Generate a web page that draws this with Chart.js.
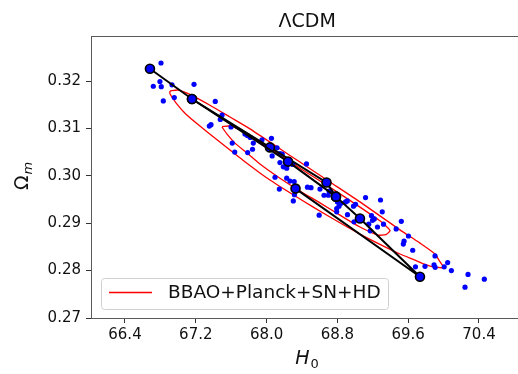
<!DOCTYPE html>
<html lang="en">
<head>
    <meta charset="UTF-8">
    <title>LCDM H0 - Omega_m</title>
    <script src="https://cdn.jsdelivr.net/npm/chart.js"></script>
    <style>
        body {
            margin: 0;
            padding: 0;
            background: #ffffff;
            overflow: hidden;
        }
        #wrap {
            width: 540px;
            height: 374px;
        }
    </style>
</head>
<body>
    <div id="wrap">
        <canvas id="myChart" width="540" height="374"></canvas>
    </div>

    <script>
        // samples (blue dots)
        var h0Samples = [66.807, 66.795, 66.720, 66.810, 66.931, 67.180, 66.833, 66.957, 67.420, 67.496,
            67.477, 67.372, 67.353, 67.598, 67.612, 67.640, 67.756, 67.784, 67.816, 67.850,
            67.948, 67.841, 68.055, 68.118, 68.063, 67.786, 68.151, 68.177, 68.151, 68.245,
            68.295, 68.189, 68.227, 68.451, 68.095, 68.227, 68.264, 68.312, 68.144, 68.462,
            68.502, 68.603, 68.649, 68.697, 68.705, 68.724, 68.315, 68.302, 68.801, 68.841,
            68.818, 68.892, 68.912, 68.792, 68.792, 68.982, 69.005, 69.118, 69.287, 68.594,
            68.914, 69.185, 69.307, 68.988, 69.197, 69.217, 69.154, 69.253, 69.321, 69.171,
            69.464, 69.522, 69.603, 69.553, 69.545, 69.651, 69.903, 69.682, 69.790, 69.892,
            69.905, 70.007, 70.046, 70.088, 70.276, 70.242, 70.460];
        var omSamples = [0.3238, 0.3199, 0.3189, 0.3188, 0.3192, 0.3193, 0.3158, 0.3165, 0.3157, 0.3128,
            0.3119, 0.3108, 0.3105, 0.3103, 0.3069, 0.3050, 0.3088, 0.3085, 0.3081, 0.3069,
            0.3076, 0.3056, 0.3079, 0.3059, 0.3042, 0.3049, 0.3047, 0.3046, 0.3028, 0.3025,
            0.3024, 0.3019, 0.3016, 0.3025, 0.2997, 0.2995, 0.2989, 0.2988, 0.2972, 0.2976,
            0.2975, 0.2972, 0.2959, 0.2959, 0.2968, 0.2967, 0.2960, 0.2947, 0.2945, 0.2942,
            0.2936, 0.2945, 0.2947, 0.2931, 0.2924, 0.2936, 0.2940, 0.2954, 0.2949, 0.2917,
            0.2918, 0.2916, 0.2924, 0.2903, 0.2906, 0.2909, 0.2898, 0.2892, 0.2898, 0.2884,
            0.2888, 0.2904, 0.2873, 0.2862, 0.2856, 0.2843, 0.2831, 0.2808, 0.2809, 0.2812,
            0.2807, 0.2808, 0.2817, 0.2800, 0.2792, 0.2765, 0.2782];

        // black path through selected points (main branch + side branch)
        var h0Path = [66.682, 67.157, 68.038, 68.677, 68.784, 69.055, 69.733, 68.327];
        var omPath = [0.3226, 0.3162, 0.3060, 0.2986, 0.2956, 0.2910, 0.2787, 0.2973];
        var h0Branch = [67.157, 68.242, 68.784];
        var omBranch = [0.3162, 0.3030, 0.2956];

        // red contours (outer = 2 sigma, inner = 1 sigma)
        var h0Outer = [66.908, 66.999, 67.134, 67.360, 67.586, 67.812, 68.151, 68.377, 68.716, 69.055,
            69.507, 69.733, 69.903, 69.948, 69.993, 70.016, 69.982, 69.880, 69.790, 69.677,
            69.507, 69.338, 69.055, 68.716, 68.377, 68.038, 67.733, 67.440, 67.247, 67.089,
            66.976, 66.908, 66.908];
        var omOuter = [0.3179, 0.3181, 0.3172, 0.3149, 0.3124, 0.3099, 0.3057, 0.3029, 0.2987, 0.2945,
            0.2886, 0.2858, 0.2835, 0.2822, 0.2810, 0.2807, 0.2806, 0.2808, 0.2813, 0.2822,
            0.2835, 0.2850, 0.2877, 0.2913, 0.2951, 0.2991, 0.3033, 0.3076, 0.3105, 0.3130,
            0.3154, 0.3173, 0.3179];
        var h0Inner = [67.496, 67.586, 67.699, 67.869, 68.151, 68.377, 68.716, 69.055, 69.281, 69.372,
            69.394, 69.349, 69.259, 69.055, 68.829, 68.603, 68.377, 68.151, 67.925, 67.779,
            67.643, 67.553, 67.496];
        var omInner = [0.3104, 0.3105, 0.3097, 0.3078, 0.3044, 0.3016, 0.2976, 0.2934, 0.2905, 0.2890,
            0.2884, 0.2876, 0.2875, 0.2892, 0.2917, 0.2943, 0.2968, 0.2995, 0.3025, 0.3048,
            0.3069, 0.3088, 0.3103];

        var xTicks = [66.4, 67.2, 68.0, 68.8, 69.6, 70.4];
        var yTicks = [0.27, 0.28, 0.29, 0.30, 0.31, 0.32];
        var legendLabel = 'BBAO+Planck+SN+HD';

        function toPoints(xs, ys) {
            return xs.map(function (x, i) { return { x: x, y: ys[i] }; });
        }

        var FONT = '"DejaVu Sans", sans-serif';

        // frame, title, axis labels and legend
        var decorations = {
            id: 'decorations',
            afterDraw: function (chart) {
                var c = chart.ctx;
                var a = chart.chartArea;
                c.save();
                c.strokeStyle = '#5a5a5a';
                c.lineWidth = 1;
                c.strokeRect(Math.round(a.left) + 0.5, Math.round(a.top) + 0.5,
                    Math.round(a.right - a.left), Math.round(a.bottom - a.top));

                var cx = (a.left + a.right) / 2;
                c.fillStyle = '#111';
                c.textAlign = 'center';
                c.textBaseline = 'alphabetic';
                c.font = '19px ' + FONT;
                c.fillText('\u039BCDM', cx, 27);

                // x label H_0
                c.font = 'italic 19px ' + FONT;
                c.textAlign = 'left';
                var wH = c.measureText('H').width;
                c.fillText('H', cx - 12, 364);
                c.font = '13px ' + FONT;
                c.fillText('0', cx - 12 + wH + 1, 368);

                // y label Omega_m
                c.translate(28, (a.top + a.bottom) / 2);
                c.rotate(-Math.PI / 2);
                c.font = '19px ' + FONT;
                var wO = c.measureText('\u03A9').width;
                c.fillText('\u03A9', -13, 0);
                c.font = 'italic 13px ' + FONT;
                c.fillText('m', -13 + wO + 1, 4);
                c.setTransform(1, 0, 0, 1, 0, 0);

                // legend
                var lx = 101.5, ly = 278.5, lw = 287, lh = 31;
                c.beginPath();
                c.roundRect(lx, ly, lw, lh, 3);
                c.fillStyle = 'rgba(255,255,255,0.8)';
                c.fill();
                c.strokeStyle = '#d0d0d0';
                c.stroke();
                c.strokeStyle = '#ff0000';
                c.lineWidth = 1.5;
                c.beginPath();
                c.moveTo(109, 292.5);
                c.lineTo(152, 292.5);
                c.stroke();
                c.fillStyle = '#111';
                c.font = '18.5px ' + FONT;
                c.textAlign = 'left';
                c.textBaseline = 'middle';
                c.fillText(legendLabel, 168, 293);
                c.restore();
            }
        };

        var pathStyle = {
            showLine: true,
            borderColor: '#000000',
            borderWidth: 2,
            pointRadius: 4.5,
            pointBackgroundColor: '#0000ff',
            pointBorderColor: '#000000',
            pointBorderWidth: 1.6,
            order: 0
        };

        var ctx = document.getElementById('myChart').getContext('2d');
        var myChart = new Chart(ctx, {
            type: 'scatter',
            data: {
                datasets: [{
                    label: 'outer',
                    data: toPoints(h0Outer, omOuter),
                    showLine: true,
                    borderColor: '#ff0000',
                    borderWidth: 1.3,
                    pointRadius: 0,
                    tension: 0.2,
                    order: 3
                }, {
                    label: 'inner',
                    data: toPoints(h0Inner, omInner),
                    showLine: true,
                    borderColor: '#ff0000',
                    borderWidth: 1.3,
                    pointRadius: 0,
                    tension: 0.2,
                    order: 2
                }, {
                    label: 'samples',
                    data: toPoints(h0Samples, omSamples),
                    backgroundColor: '#0000ff',
                    borderWidth: 0,
                    pointRadius: 2.6,
                    order: 1
                }, Object.assign({
                    label: 'branch',
                    data: toPoints(h0Branch, omBranch)
                }, pathStyle), Object.assign({
                    label: 'path',
                    data: toPoints(h0Path, omPath)
                }, pathStyle)]
            },
            options: {
                responsive: false,
                animation: false,
                layout: {
                    padding: { left: 0, top: 36, right: 16.75, bottom: 0 }
                },
                plugins: {
                    legend: { display: false },
                    tooltip: { enabled: false }
                },
                scales: {
                    x: {
                        type: 'linear',
                        min: 66.016,
                        max: 70.9,
                        afterBuildTicks: function (scale) {
                            scale.ticks = xTicks.map(function (v) { return { value: v }; });
                        },
                        afterFit: function (scale) { scale.height = 56; },
                        grid: { drawOnChartArea: false, drawTicks: true, tickLength: 5, tickColor: '#333' },
                        border: { display: false },
                        ticks: {
                            color: '#111',
                            padding: 3,
                            font: { family: 'DejaVu Sans', size: 15 },
                            callback: function (v) { return v.toFixed(1); }
                        }
                    },
                    y: {
                        type: 'linear',
                        min: 0.27,
                        max: 0.3295,
                        afterBuildTicks: function (scale) {
                            scale.ticks = yTicks.map(function (v) { return { value: v }; });
                        },
                        afterFit: function (scale) { scale.width = 91; },
                        grid: { drawOnChartArea: false, drawTicks: true, tickLength: 5, tickColor: '#333' },
                        border: { display: false },
                        ticks: {
                            color: '#111',
                            padding: 5,
                            font: { family: 'DejaVu Sans', size: 15 },
                            callback: function (v) { return v.toFixed(2); }
                        }
                    }
                }
            },
            plugins: [decorations]
        });
    </script>
</body>
</html>
